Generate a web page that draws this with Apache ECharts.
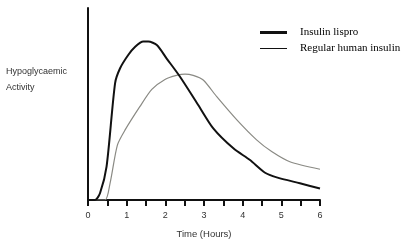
<!DOCTYPE html>
<html><head><meta charset="utf-8">
<script src="https://cdn.jsdelivr.net/npm/echarts@6/dist/echarts.min.js"></script>
<style>html,body{margin:0;padding:0;background:#fff}#c{width:406px;height:246px}</style>
</head><body><div id="c"></div>
<script>
var xTicks = [0, 1, 2, 3, 4, 5, 6];
var lisproT = [0, 0.18, 0.31, 0.48, 0.70, 0.83, 1.04, 1.22, 1.43, 1.56, 1.78, 2.03, 2.38, 2.85, 3.24, 3.76, 4.19, 4.58, 4.88, 5.48, 6.0];
var lisproV = [0, 0, 3.5, 17.4, 60.8, 68.6, 75.5, 79.8, 82.5, 82.5, 80.7, 73.8, 64.2, 49.5, 37.3, 26.9, 20.8, 14.2, 11.8, 8.7, 6.0];
var regularT = [0, 0.44, 0.57, 0.76, 0.96, 1.34, 1.65, 1.99, 2.29, 2.51, 2.72, 2.98, 3.33, 3.85, 4.36, 4.75, 5.22, 6.0];
var regularV = [0, 0, 8.7, 28.6, 36.5, 48.6, 57.6, 62.8, 64.9, 65.6, 64.9, 62.5, 53.8, 41.7, 31.3, 25.2, 19.9, 16.0];
var seriesNames = ['Insulin lispro', 'Regular human insulin'];
var yTitle = ['Hypoglycaemic', 'Activity'];
var xTitle = 'Time (Hours)';

function pairs(t, v) { return t.map(function (x, i) { return [x, v[i]]; }); }

var chart = echarts.init(document.getElementById('c'), null, {renderer: 'canvas'});
var legText = {fontFamily: 'Liberation Serif', fontSize: 11, color: '#000', padding: [0, 0, 0, 8]};
chart.setOption({
  animation: false,
  grid: {left: 88, right: 86, top: 8, bottom: 46},
  xAxis: {
    type: 'value', min: xTicks[0], max: xTicks[xTicks.length - 1], interval: 1,
    name: xTitle, nameLocation: 'middle', nameGap: 29,
    nameTextStyle: {fontFamily: 'Liberation Sans', fontSize: 9.5, color: '#333'},
    axisLine: {lineStyle: {color: '#111', width: 2}},
    axisTick: {show: true, length: 6, lineStyle: {color: '#111', width: 2}},
    minorTick: {show: true, splitNumber: 2, length: 6, lineStyle: {color: '#111', width: 2}},
    axisLabel: {margin: 11, fontFamily: 'Liberation Sans', fontSize: 9, color: '#333',
      formatter: function (v) { return xTicks.indexOf(v) >= 0 ? String(v) : ''; }},
    splitLine: {show: false}
  },
  yAxis: {
    type: 'value', min: 0, max: 100,
    axisLine: {show: true, lineStyle: {color: '#111', width: 2}},
    axisTick: {show: false}, axisLabel: {show: false}, splitLine: {show: false}
  },
  legend: [
    {data: [{name: seriesNames[0], itemStyle: {color: '#111'}}], left: 260, top: 27, icon: 'rect',
      itemWidth: 27, itemHeight: 3, padding: 0, textStyle: legText},
    {data: [{name: seriesNames[1], itemStyle: {color: '#111'}}], left: 260, top: 43, icon: 'rect',
      itemWidth: 27, itemHeight: 1, padding: 0, textStyle: legText}
  ],
  graphic: [
    {type: 'text', left: 6, top: 67, style: {text: yTitle[0], font: '9px "Liberation Sans"', fill: '#333'}},
    {type: 'text', left: 6, top: 83, style: {text: yTitle[1], font: '9px "Liberation Sans"', fill: '#333'}}
  ],
  series: [
    {name: seriesNames[0], type: 'line', data: pairs(lisproT, lisproV), smooth: 0.25, showSymbol: false,
      itemStyle: {color: '#111'}, lineStyle: {color: '#111', width: 2}, z: 3},
    {name: seriesNames[1], type: 'line', data: pairs(regularT, regularV), smooth: 0.25, showSymbol: false,
      itemStyle: {color: '#111'}, lineStyle: {color: '#8a8a84', width: 1.2}, z: 2}
  ]
});
</script></body></html>
